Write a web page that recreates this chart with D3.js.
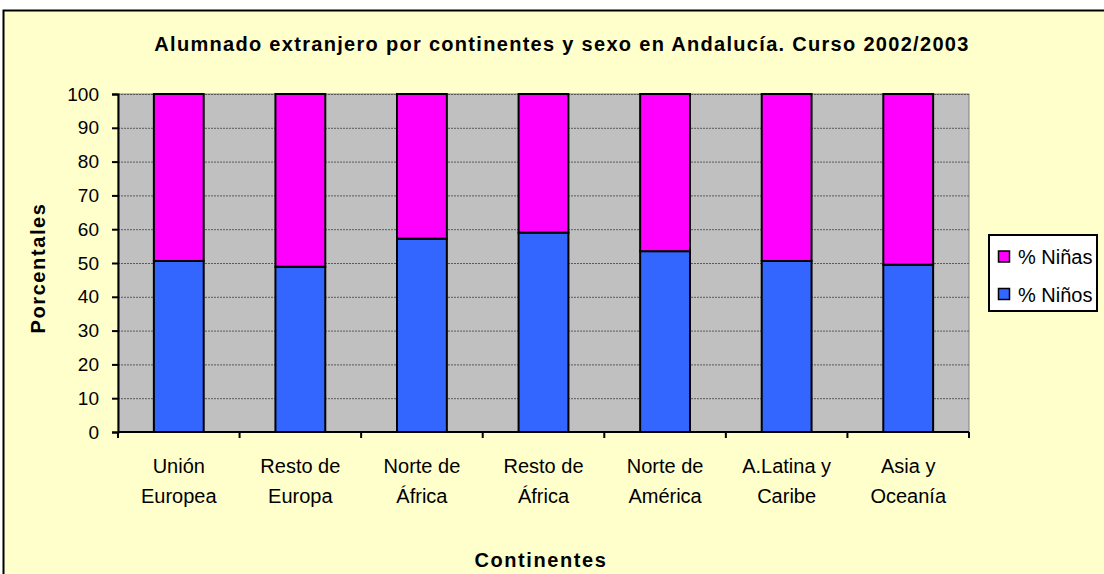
<!DOCTYPE html>
<html><head><meta charset="utf-8">
<script src="https://cdn.jsdelivr.net/npm/d3@7"></script>
<style>body{margin:0;background:#fff}svg{display:block}text{font-family:"Liberation Sans",Arial,sans-serif}</style>
</head><body><svg id="c" width="1104" height="574"></svg>
<script>
const categories = [["Unión","Europea"],["Resto de","Europa"],["Norte de","África"],["Resto de","África"],["Norte de","América"],["A.Latina y","Caribe"],["Asia y","Oceanía"]];
const ninos = [50.6, 48.9, 57.2, 59.0, 53.5, 50.6, 49.5];
const ninas = ninos.map(v => 100 - v);
const seriesNames = ["% Niños","% Niñas"];
const seriesColors = ["#3366FF","#FF00FF"];
const yTicks = [0,10,20,30,40,50,60,70,80,90,100];

const svg = d3.select("#c");
svg.append("rect").attr("x",3.5).attr("y",10.5).attr("width",1110).attr("height",600)
  .attr("fill","#FFFFCC").attr("stroke","#000").attr("stroke-width",2);

const L=118,R=969,T=94,B=432;
svg.append("rect").attr("x",L).attr("y",T).attr("width",R-L).attr("height",B-T).attr("fill","#C0C0C0").attr("stroke","#808080").attr("stroke-width",1);

const x = d3.scaleBand().domain(d3.range(categories.length)).range([L,R]).paddingInner(0.59).paddingOuter(0.295);
const y = d3.scaleLinear().domain([0,100]).range([B,T]);

svg.append("g").selectAll("line").data(yTicks.filter(d=>d>0)).join("line")
  .attr("x1",L).attr("x2",R).attr("y1",d=>y(d)+0.5).attr("y2",d=>y(d)+0.5)
  .attr("stroke","#5a5a5a").attr("stroke-width",1).attr("stroke-dasharray","2,1");

const stack = categories.map((c,i)=>({i, a:ninos[i], b:ninas[i]}));
const g = svg.append("g");
g.selectAll(".n").data(stack).join("rect")
  .attr("x",d=>x(d.i)).attr("width",x.bandwidth())
  .attr("y",d=>y(d.a)).attr("height",d=>y(0)-y(d.a))
  .attr("fill",seriesColors[0]).attr("stroke","#000").attr("stroke-width",2);
g.selectAll(".m").data(stack).join("rect")
  .attr("x",d=>x(d.i)).attr("width",x.bandwidth())
  .attr("y",d=>y(100)).attr("height",d=>y(d.a)-y(100))
  .attr("fill",seriesColors[1]).attr("stroke","#000").attr("stroke-width",2);

// y axis
const ya = svg.append("g").attr("transform",`translate(${L},0)`)
  .call(d3.axisLeft(y).tickValues(yTicks).tickSize(6).tickPadding(13));
ya.select(".domain").attr("stroke","#000").attr("stroke-width",2);
ya.selectAll(".tick line").attr("stroke","#000").attr("stroke-width",2);
ya.selectAll("text").attr("font-size",19).attr("fill","#000").attr("font-family","Liberation Sans, Arial");

// x axis
svg.append("line").attr("x1",L).attr("x2",R).attr("y1",B).attr("y2",B).attr("stroke","#000").attr("stroke-width",2);
const step = x.step();
const bounds = d3.range(categories.length+1).map(k=>L+k*step);
svg.append("g").selectAll("line").data(bounds).join("line")
  .attr("x1",d=>d).attr("x2",d=>d).attr("y1",B).attr("y2",B+6).attr("stroke","#000").attr("stroke-width",2);
const lab = svg.append("g").selectAll("text").data(categories).join("text")
  .attr("text-anchor","middle").attr("font-size",20).attr("fill","#000");
lab.each(function(d,i){
  const t=d3.select(this); const cx=x(i)+x.bandwidth()/2;
  d.forEach((s,k)=>t.append("tspan").attr("x",cx).attr("y",473+k*30).text(s));
});

svg.append("text").attr("x",562).attr("y",51).attr("text-anchor","middle").attr("font-size",20).attr("font-weight","bold")
  .attr("letter-spacing",1.3).text("Alumnado extranjero por continentes y sexo en Andalucía. Curso 2002/2003");
svg.append("text").attr("transform","translate(45,268) rotate(-90)").attr("text-anchor","middle").attr("font-size",20).attr("font-weight","bold").attr("letter-spacing",1.6).text("Porcentales");
svg.append("text").attr("x",541).attr("y",567).attr("text-anchor","middle").attr("font-size",20).attr("font-weight","bold").attr("letter-spacing",1.6).text("Continentes");

// legend
const lg = svg.append("g");
lg.append("rect").attr("x",989).attr("y",235).attr("width",108).attr("height",76).attr("fill","#fff").attr("stroke","#000").attr("stroke-width",2);
const items=[{n:seriesNames[1],c:seriesColors[1]},{n:seriesNames[0],c:seriesColors[0]}];
items.forEach((d,k)=>{
  const yy=251+k*37.5;
  lg.append("rect").attr("x",998.5).attr("y",yy).attr("width",11).attr("height",11).attr("fill",d.c).attr("stroke","#000").attr("stroke-width",1.5);
  lg.append("text").attr("x",1018).attr("y",yy+13).attr("font-size",20).text(d.n);
});
</script></body></html>
